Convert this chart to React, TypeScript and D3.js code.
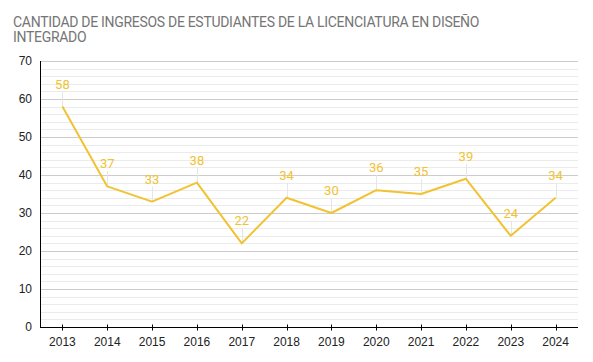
import React, { useEffect, useRef } from "react";
import * as d3 from "d3";

// data
const years = ["2013", "2014", "2015", "2016", "2017", "2018", "2019", "2020", "2021", "2022", "2023", "2024"];
const ingresos = [58, 37, 33, 38, 22, 34, 30, 36, 35, 39, 24, 34];
const titleLines = ["CANTIDAD DE INGRESOS DE ESTUDIANTES DE LA LICENCIATURA EN DISEÑO", "INTEGRADO"];

const width = 593;
const height = 362;
const margin = { top: 61, right: 15, bottom: 35, left: 40 };
const lineColor = "#f1c232";
const font = "Arial, 'Liberation Sans', sans-serif";

const App = () => {
  const svgRef = useRef<SVGSVGElement>(null);

  useEffect(() => {
    const svg = d3.select(svgRef.current);
    svg.selectAll("*").remove();

    const x = d3
      .scaleBand()
      .domain(years)
      .range([margin.left, width - margin.right]);

    const y = d3
      .scaleLinear()
      .domain([0, 70])
      .range([height - margin.bottom, margin.top]);

    const cx = (d: string) => (x(d) as number) + x.bandwidth() / 2;

    // title
    svg
      .append("text")
      .attr("font-family", "Roboto, Arial, sans-serif")
      .attr("font-size", 14)
      .attr("letter-spacing", -0.3)
      .attr("fill", "#757575")
      .selectAll("tspan")
      .data(titleLines)
      .enter()
      .append("tspan")
      .attr("x", 13)
      .attr("y", (d, i) => 27 + i * 14.5)
      .text((d) => d);

    // grid lines, minor every 2 and major every 10
    const grid = svg.append("g");
    grid
      .selectAll("line.minor")
      .data(d3.range(2, 71, 2).filter((v) => v % 10 !== 0))
      .enter()
      .append("line")
      .attr("x1", margin.left)
      .attr("x2", width - margin.right)
      .attr("y1", (d) => Math.round(y(d)) + 0.5)
      .attr("y2", (d) => Math.round(y(d)) + 0.5)
      .attr("stroke", "#ebebeb");
    grid
      .selectAll("line.major")
      .data(d3.range(10, 71, 10))
      .enter()
      .append("line")
      .attr("x1", margin.left)
      .attr("x2", width - margin.right)
      .attr("y1", (d) => Math.round(y(d)) + 0.5)
      .attr("y2", (d) => Math.round(y(d)) + 0.5)
      .attr("stroke", "#cccccc");

    // y labels
    svg
      .append("g")
      .selectAll("text")
      .data(d3.range(0, 71, 10))
      .enter()
      .append("text")
      .attr("x", 32)
      .attr("y", (d) => y(d) + 4)
      .attr("text-anchor", "end")
      .attr("font-family", font)
      .attr("font-size", 12)
      .attr("fill", "#222")
      .text((d) => d);

    // axes lines
    const y0 = Math.round(y(0)) + 0.5;
    svg
      .append("line")
      .attr("x1", margin.left + 0.5)
      .attr("x2", margin.left + 0.5)
      .attr("y1", Math.round(y(70)))
      .attr("y2", y0)
      .attr("stroke", "#000");
    svg
      .append("line")
      .attr("x1", margin.left)
      .attr("x2", width - margin.right)
      .attr("y1", y0)
      .attr("y2", y0)
      .attr("stroke", "#000");

    // x ticks and labels
    const xg = svg.append("g");
    xg.selectAll("line")
      .data(years)
      .enter()
      .append("line")
      .attr("x1", (d) => Math.round(cx(d)) + 0.5)
      .attr("x2", (d) => Math.round(cx(d)) + 0.5)
      .attr("y1", y0 - 3)
      .attr("y2", y0 + 3)
      .attr("stroke", "#000");
    xg.selectAll("text")
      .data(years)
      .enter()
      .append("text")
      .attr("x", (d) => cx(d))
      .attr("y", 346)
      .attr("text-anchor", "middle")
      .attr("font-family", font)
      .attr("font-size", 12)
      .attr("fill", "#222")
      .text((d) => d);

    // leader lines to the value labels
    svg
      .append("g")
      .selectAll("line")
      .data(ingresos)
      .enter()
      .append("line")
      .attr("x1", (d, i) => Math.round(cx(years[i])) + 0.5)
      .attr("x2", (d, i) => Math.round(cx(years[i])) + 0.5)
      .attr("y1", (d) => y(d))
      .attr("y2", (d) => y(d) - 15)
      .attr("stroke", "#e6e6e6");

    const line = d3
      .line<number>()
      .x((d, i) => cx(years[i]))
      .y((d) => y(d));

    svg
      .append("path")
      .datum(ingresos)
      .attr("d", line)
      .attr("fill", "none")
      .attr("stroke", lineColor)
      .attr("stroke-width", 2)
      .attr("stroke-linejoin", "round");

    // value labels
    svg
      .append("g")
      .selectAll("text")
      .data(ingresos)
      .enter()
      .append("text")
      .attr("x", (d, i) => cx(years[i]))
      .attr("y", (d) => y(d) - 18)
      .attr("text-anchor", "middle")
      .attr("font-family", "Roboto, Arial, sans-serif")
      .attr("font-size", 13)
      .attr("fill", lineColor)
      .text((d) => d);
  }, []);

  return (
    <svg
      ref={svgRef}
      width={width}
      height={height}
      style={{ position: "absolute", left: 0, top: 0, background: "#fff" }}
    />
  );
};

export default App;
